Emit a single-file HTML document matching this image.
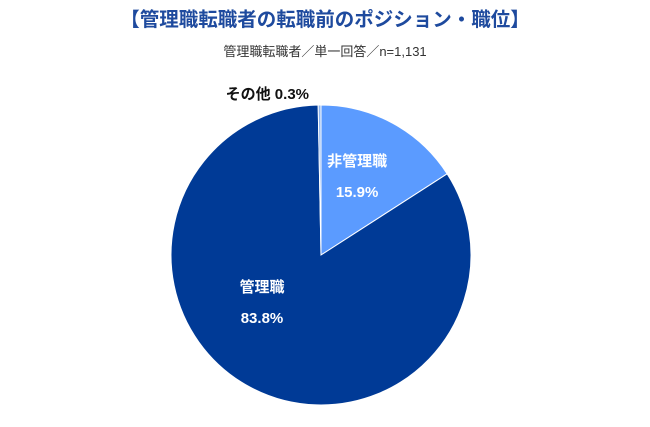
<!DOCTYPE html>
<html><head><meta charset="utf-8"><style>
body{margin:0;width:650px;height:422px;background:#fff;overflow:hidden;font-family:"Liberation Sans","Noto Sans CJK JP",sans-serif}
</style></head><body>
<svg width="650" height="422">
<text x="325" y="26" text-anchor="middle" font-size="19.5" font-weight="bold" fill="#1e4a9e" font-family="Liberation Sans, Noto Sans CJK JP, sans-serif">【管理職転職者の転職前のポジション・職位】</text>
<text x="325" y="56" text-anchor="middle" font-size="13" fill="#333" font-family="Liberation Sans, Noto Sans CJK JP, sans-serif">管理職転職者／単一回答／n=1,131</text>
<g id="pie"></g>
</svg>
<script>
const labels=["非管理職","管理職","その他"];
const values=[15.9,83.8,0.3];
const colors=["#5b9bff","#003a96","#8fb5ee"];
const cx=321,cy=255,r=150;
const g=document.getElementById('pie');
const ns="http://www.w3.org/2000/svg";
const total=values.reduce((a,b)=>a+b,0);
let a0=0;
function pt(a,rr){return [cx+rr*Math.sin(a),cy-rr*Math.cos(a)];}
values.forEach((v,i)=>{
  const a1=a0+v/total*2*Math.PI;
  const p0=pt(a0,r),p1=pt(a1,r);
  const p=document.createElementNS(ns,'path');
  p.setAttribute('d',`M${cx},${cy}L${p0[0]},${p0[1]}A${r},${r} 0 ${a1-a0>Math.PI?1:0} 1 ${p1[0]},${p1[1]}Z`);
  p.setAttribute('fill',colors[i]);p.setAttribute('stroke','#fff');p.setAttribute('stroke-width','1');
  
  
  g.appendChild(p);
  const mid=(a0+a1)/2;
  const t=document.createElementNS(ns,'text');
  t.setAttribute('font-size','15');t.setAttribute('font-weight','bold');
  t.setAttribute('font-family','Liberation Sans, Noto Sans CJK JP, sans-serif');
  if(v<2){
    t.setAttribute('x',cx-12);t.setAttribute('y',cy-r-6);t.setAttribute('text-anchor','end');
    t.setAttribute('fill','#111');t.textContent=labels[i]+' '+v.toFixed(1)+'%';
  }else{
    let c;
    if(v>50){c=[cx-59,cy+37];}
    else{c=pt(mid,r*0.6);c=[c[0]-7,c[1]-10];}
    t.setAttribute('x',c[0]);t.setAttribute('y',c[1]);t.setAttribute('text-anchor','middle');t.setAttribute('fill','#fff');
    const s1=document.createElementNS(ns,'tspan');s1.setAttribute('x',c[0]);s1.textContent=labels[i];
    const s2=document.createElementNS(ns,'tspan');s2.setAttribute('x',c[0]);s2.setAttribute('dy','31');s2.textContent=v.toFixed(1)+'%';
    t.appendChild(s1);t.appendChild(s2);
  }
  
  
  g.appendChild(t);
  a0=a1;
});
</script>
</body></html>
